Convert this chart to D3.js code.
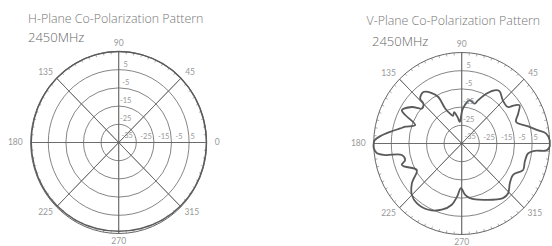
<!DOCTYPE html>
<html>
<head>
<meta charset="utf-8">
<script src="https://cdn.jsdelivr.net/npm/d3@7"></script>
<style>
  body { margin: 0; background: #fff; }
  svg { display: block; }
  text { font-family: Lato, "Open Sans", sans-serif; }
  text.title { font-family: "Open Sans", Lato, sans-serif; font-weight: 300; }
</style>
</head>
<body>
<div class="container"></div>
<script>
// polar co-polarization patterns, 2450MHz

var width = 552;
var height = 246;

var titles = ["H-Plane Co-Polarization Pattern", "V-Plane Co-Polarization Pattern"];
var freqLabel = "2450MHz";

var angleTicks = [0, 45, 90, 135, 180, 225, 270, 315];
var ringTicks = [-25, -15, -5, 5];
var dbMin = -35, dbMax = 15;

// H-plane: nearly omni, hugs the outer ring
var hAngles = [0, 15, 30, 45, 60, 75, 90, 105, 120, 135, 150, 165, 180, 195, 210, 225, 240, 255, 270, 285, 300, 315, 330, 345];
var hGain   = [14.8, 14.8, 14.9, 15, 15, 15, 15, 15, 14.9, 14.9, 14.8, 14.7, 14.7, 14.6, 14.6, 14.4, 14.2, 13.9, 13.8, 13.9, 14.2, 14.5, 14.7, 14.8];

// V-plane
var vAngles = [0, 2, 6.6, 9.6, 14, 21, 27, 32.6, 35, 37.4, 45.4, 53.3, 57.4, 63, 68.7, 71.4, 79, 88, 95.5, 99, 104, 108, 112, 116, 117.5, 121.5, 127.6, 133.8, 134.8, 139.7, 144.7, 151.8, 154, 159, 164, 166.7, 171, 175, 178, 180, 183, 186.4, 188.3, 190.5, 195.8, 199, 201.6, 209.7, 217.6, 224.9, 232, 242.6, 252.7, 260.5, 265, 269, 274, 279, 291.6, 308, 314, 321.4, 329.4, 337.4, 344.4, 351.8, 354.5, 355.5, 358];
var vGain   = [15, 15, 13.2, 8.8, 4.0, -1.9, 1.0, 4.0, 1.6, -2.0, -1.7, 0.9, -0.3, -4.3, -9.6, -11.9, -10.8, -15.8, -23.1, -20.5, -17.3, -19, -17.3, -13.6, -6.2, -2.5, 0.7, -0.9, -4.1, -5.3, -0.3, 3.6, 0.7, -6.7, -1.6, 0.9, 6.1, 11.4, 14.5, 15, 15, 13.4, 8.9, -0.4, -1.6, 1.0, -0.4, -5.6, 0.7, 5.0, 6.5, 6.0, 3.1, -0.9, -5.8, -10.5, -6.7, -4.6, -1.7, 3.1, 3.0, 0, -1.1, 2.8, 2.2, 3.1, 6.7, 13.3, 15];

var charts = [
  {cx: 118.7, cy: 142.5, tx: 28, ty: 23, fx: 28, fy: 41.5, angles: hAngles, gain: hGain, labels: angleTicks},
  // the 0 label of the right plot falls off the picture, so it's left out
  {cx: 461.7, cy: 143.5, tx: 366.5, ty: 24.5, fx: 372, fy: 45.5, angles: vAngles, gain: vGain, labels: angleTicks.slice(1)}
];

var R = 88, ky = 91 / 88;
var r = d3.scaleLinear().domain([dbMin, dbMax]).range([0, R]);
var rad = function(a) { return a * Math.PI / 180; };

var svg = d3.select(".container").append("svg")
    .attr("width", width)
    .attr("height", height);

charts.forEach(function(c, i) {
  svg.append("text")
    .attr("class", "title")
    .attr("x", c.tx).attr("y", c.ty)
    .attr("font-size", 12.4)
    .attr("fill", "#777")
    .text(titles[i]);
  svg.append("text")
    .attr("class", "title")
    .attr("x", c.fx).attr("y", c.fy)
    .attr("font-size", 13)
    .attr("fill", "#666")
    .text(freqLabel);

  // stretched group for the grid + curve (reference is slightly taller than wide)
  var g = svg.append("g")
    .attr("transform", "translate(" + c.cx + "," + c.cy + ") scale(1," + ky + ")");

  g.selectAll("circle.ring").data(ringTicks.concat([dbMax]))
    .enter().append("circle")
    .attr("r", function(d) { return r(d); })
    .attr("fill", "none")
    .attr("stroke", "#666")
    .attr("stroke-width", function(d) { return d == dbMax ? 1 : 0.8; })
    .attr("vector-effect", "non-scaling-stroke");

  g.selectAll("line.spoke").data(angleTicks)
    .enter().append("line")
    .attr("x1", function(d) { return -R * Math.cos(rad(d)); })
    .attr("y1", function(d) { return R * Math.sin(rad(d)); })
    .attr("x2", function(d) { return R * Math.cos(rad(d)); })
    .attr("y2", function(d) { return -R * Math.sin(rad(d)); })
    .attr("stroke", "#666")
    .attr("stroke-width", 0.8)
    .attr("vector-effect", "non-scaling-stroke");

  // little ticks around the rim every 5 degrees
  g.selectAll("line.tick").data(d3.range(0, 360, 5))
    .enter().append("line")
    .attr("x1", function(d) { return R * Math.cos(rad(d)); })
    .attr("y1", function(d) { return -R * Math.sin(rad(d)); })
    .attr("x2", function(d) { return (R - 2.5) * Math.cos(rad(d)); })
    .attr("y2", function(d) { return -(R - 2.5) * Math.sin(rad(d)); })
    .attr("stroke", "#777")
    .attr("stroke-width", 0.6)
    .attr("vector-effect", "non-scaling-stroke");

  var pts = c.angles.map(function(a, j) {
    var rr = r(c.gain[j]);
    return [rr * Math.cos(rad(a)), -rr * Math.sin(rad(a))];
  });
  g.append("path")
    .attr("d", d3.line().curve(d3.curveCatmullRomClosed.alpha(0.5))(pts))
    .attr("fill", "none")
    .attr("stroke", "#5a5a5a")
    .attr("stroke-width", i == 0 ? 1.4 : 1.8)
    .attr("vector-effect", "non-scaling-stroke");

  // angle labels, kept outside the stretched group
  c.labels.forEach(function(a) {
    var cs = Math.cos(rad(a)), sn = Math.sin(rad(a));
    var t = svg.append("text")
      .attr("font-size", 8.5)
      .attr("fill", "#999")
      .attr("text-anchor", "middle")
      .attr("dy", "0.35em")
      .text(a);
    var w = t.node().getComputedTextLength();
    t.attr("x", c.cx + cs * (R + 8) + cs * w / 2)
     .attr("y", c.cy - sn * (R * ky + 8));
  });

  // dB labels up the 90 axis
  [dbMin].concat(ringTicks).forEach(function(d) {
    svg.append("text")
      .attr("x", c.cx + (d == dbMin ? 8.5 : 7))
      .attr("y", c.cy - r(d) * ky - (d == dbMin ? 7 : 5.5))
      .attr("dy", "0.35em")
      .attr("text-anchor", "middle")
      .attr("font-size", 7.5)
      .attr("fill", "#999")
      .text(d);
  });
  // dB labels along the 0 axis
  ringTicks.forEach(function(d) {
    svg.append("text")
      .attr("x", c.cx + r(d) + (d == 5 ? 1.5 : 4))
      .attr("y", c.cy - 6)
      .attr("dy", "0.35em")
      .attr("font-size", 7.5)
      .attr("fill", "#999")
      .text(d);
  });
});
</script>
</body>
</html>
